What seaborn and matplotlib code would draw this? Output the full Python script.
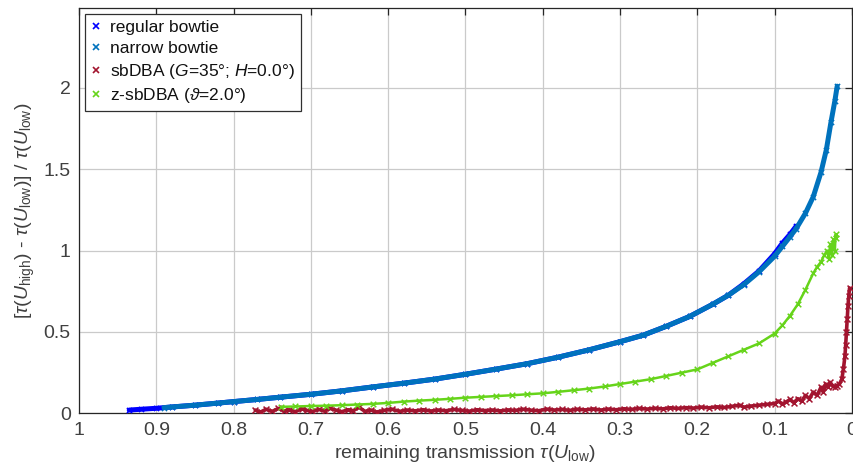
import numpy as np
import pandas as pd
import matplotlib
matplotlib.use("Agg")
import matplotlib.pyplot as plt
from matplotlib.lines import Line2D
from matplotlib.ticker import FuncFormatter
import seaborn as sns

# ---- measured data: remaining transmission vs. relative transmission change ----
regular_x = [0.935, 0.92, 0.90, 0.88, 0.85, 0.82, 0.80, 0.77, 0.74, 0.70, 0.66, 0.62,
             0.58, 0.54, 0.50, 0.46, 0.42, 0.38, 0.34, 0.30, 0.27, 0.24, 0.21, 0.18,
             0.16, 0.14, 0.12, 0.10, 0.09, 0.08, 0.072]
regular_y = [0.020, 0.025, 0.031, 0.039, 0.050, 0.063, 0.072, 0.085, 0.099, 0.117, 0.138, 0.162,
             0.185, 0.210, 0.240, 0.272, 0.305, 0.345, 0.390, 0.440, 0.480, 0.535, 0.595, 0.670,
             0.725, 0.795, 0.875, 0.980, 1.045, 1.100, 1.150]

narrow_x = [0.89, 0.88, 0.85, 0.82, 0.80, 0.77, 0.74, 0.70, 0.66, 0.62, 0.58, 0.54,
            0.50, 0.46, 0.42, 0.38, 0.34, 0.30, 0.27, 0.24, 0.21, 0.18, 0.16, 0.14,
            0.12, 0.10, 0.09, 0.08, 0.072, 0.06, 0.05, 0.04, 0.033, 0.027, 0.022, 0.019]
narrow_y = [0.035, 0.039, 0.050, 0.063, 0.072, 0.085, 0.099, 0.117, 0.138, 0.162, 0.185, 0.210,
            0.240, 0.272, 0.305, 0.345, 0.390, 0.440, 0.480, 0.535, 0.595, 0.670, 0.725, 0.790,
            0.870, 0.965, 1.025, 1.085, 1.135, 1.230, 1.330, 1.480, 1.620, 1.790, 1.920, 2.010]

sbdba_x = [0.772, 0.765, 0.758, 0.750, 0.742, 0.735, 0.728, 0.720, 0.712, 0.705, 0.698, 0.690,
           0.682, 0.675, 0.668, 0.660, 0.652, 0.645, 0.638, 0.630, 0.622, 0.615, 0.605, 0.595,
           0.585, 0.575, 0.565, 0.555, 0.545, 0.535, 0.525, 0.515, 0.505, 0.495, 0.485, 0.475,
           0.465, 0.455, 0.445, 0.435, 0.425, 0.415, 0.405, 0.395, 0.385, 0.375, 0.365, 0.355,
           0.345, 0.335, 0.325, 0.315, 0.305, 0.295, 0.285, 0.275, 0.265, 0.255, 0.245, 0.235,
           0.225, 0.215, 0.205, 0.195, 0.185, 0.175, 0.165, 0.155, 0.145, 0.140, 0.130, 0.120,
           0.110, 0.100, 0.095, 0.090, 0.085, 0.080, 0.075, 0.070, 0.065, 0.060, 0.055, 0.050,
           0.045, 0.040, 0.037, 0.034, 0.031, 0.028, 0.025, 0.022, 0.019, 0.016, 0.013, 0.011,
           0.009, 0.008, 0.007, 0.006, 0.005, 0.004, 0.003]
sbdba_y = [0.020, 0.008, 0.025, 0.012, 0.030, 0.015, 0.022, 0.010, 0.028, 0.018, 0.012, 0.024,
           0.015, 0.030, 0.020, 0.010, 0.022, 0.016, 0.038, 0.012, 0.020, 0.008, 0.018, 0.025,
           0.012, 0.020, 0.015, 0.022, 0.014, 0.020, 0.016, 0.024, 0.018, 0.013, 0.022, 0.017,
           0.020, 0.015, 0.021, 0.018, 0.025, 0.019, 0.016, 0.026, 0.020, 0.024, 0.018, 0.025,
           0.021, 0.027, 0.020, 0.026, 0.022, 0.028, 0.024, 0.030, 0.026, 0.031, 0.027, 0.034,
           0.030, 0.035, 0.032, 0.038, 0.034, 0.040, 0.036, 0.043, 0.050, 0.038, 0.045, 0.050,
           0.055, 0.060, 0.075, 0.058, 0.070, 0.085, 0.065, 0.090, 0.075, 0.110, 0.090, 0.130,
           0.110, 0.160, 0.130, 0.180, 0.160, 0.190, 0.170, 0.160, 0.170, 0.180, 0.210, 0.270,
           0.350, 0.420, 0.500, 0.580, 0.660, 0.720, 0.770]

zsbdba_x = [0.738, 0.72, 0.70, 0.68, 0.66, 0.64, 0.62, 0.60, 0.58, 0.56, 0.54, 0.52,
            0.50, 0.48, 0.46, 0.44, 0.42, 0.40, 0.38, 0.36, 0.34, 0.32, 0.30, 0.28,
            0.26, 0.24, 0.22, 0.20, 0.18, 0.16, 0.14, 0.12, 0.10, 0.09, 0.08, 0.07,
            0.06, 0.05, 0.045, 0.040, 0.036, 0.032, 0.030, 0.028, 0.026, 0.024, 0.022,
            0.021, 0.020]
zsbdba_y = [0.040, 0.042, 0.045, 0.047, 0.050, 0.054, 0.058, 0.064, 0.072, 0.078, 0.083, 0.089,
            0.096, 0.101, 0.106, 0.111, 0.117, 0.123, 0.132, 0.142, 0.152, 0.165, 0.180, 0.195,
            0.210, 0.230, 0.250, 0.270, 0.310, 0.350, 0.390, 0.430, 0.490, 0.540, 0.600, 0.670,
            0.760, 0.860, 0.900, 0.930, 0.970, 1.000, 0.950, 1.040, 0.970, 1.070, 1.000,
            1.100, 1.080]

series_labels = ["regular bowtie", "narrow bowtie",
                 r"sbDBA ($G$=35°; $H$=0.0°)", r"z-sbDBA ($\vartheta$=2.0°)"]
series_colors = ["#0000FF", "#0072BD", "#A2142F", "#66D41A"]

x_ticks = [1.0, 0.9, 0.8, 0.7, 0.6, 0.5, 0.4, 0.3, 0.2, 0.1, 0.0]
y_ticks = [0.0, 0.5, 1.0, 1.5, 2.0]

# ---- styling ----
sns.set_theme(style="whitegrid")
plt.rcParams["font.family"] = ["Liberation Sans", "DejaVu Sans"]
plt.rcParams["mathtext.fontset"] = "custom"
plt.rcParams["mathtext.rm"] = "Liberation Sans"
plt.rcParams["mathtext.it"] = "Liberation Sans:italic"
plt.rcParams["mathtext.cal"] = "Liberation Serif:italic"

text_col = "#404040"
fig = plt.figure(figsize=(8.54, 4.74), dpi=100)
ax = fig.add_axes([0.0925, 0.128, 0.905, 0.855])

frames = [
    pd.DataFrame({"tau": regular_x, "rel": regular_y}),
    pd.DataFrame({"tau": narrow_x, "rel": narrow_y}),
    pd.DataFrame({"tau": sbdba_x, "rel": sbdba_y}),
    pd.DataFrame({"tau": zsbdba_x, "rel": zsbdba_y}),
]
line_widths = [3.6, 3.6, 2.6, 1.8]
marker_sizes = [14, 14, 18, 16]
draw_order = [2, 3, 0, 1]
for i in draw_order:
    df = frames[i]
    sns.lineplot(data=df, x="tau", y="rel", sort=False, estimator=None,
                 color=series_colors[i], linewidth=line_widths[i], ax=ax, zorder=3 + i)
    sns.scatterplot(data=df, x="tau", y="rel", marker="x", s=marker_sizes[i], linewidth=1.1,
                    color=series_colors[i], ax=ax, zorder=3 + i)

ax.set_xlim(1.0, 0.0)
ax.set_ylim(0.0, 2.49)
ax.set_xticks(x_ticks)
ax.set_yticks(y_ticks)
fmt = FuncFormatter(lambda v, p: "%g" % round(v, 2))
ax.xaxis.set_major_formatter(fmt)
ax.yaxis.set_major_formatter(fmt)

ax.grid(True, color="#cacaca", linewidth=0.9)
ax.set_axisbelow(True)
for s in ax.spines.values():
    s.set_color("#262626")
    s.set_linewidth(0.9)
    s.set_visible(True)
ax.tick_params(axis="both", which="major", direction="in", length=5, width=0.9,
               color="#262626", top=True, right=True, labelsize=14,
               labelcolor=text_col, pad=6)

ax.set_xlabel(r"remaining transmission $\tau$($U_{\rm low}$)", fontsize=14,
              color=text_col, labelpad=3)
ax.set_ylabel(r"[$\tau$($U_{\rm high}$) - $\tau$($U_{\rm low}$)] / $\tau$($U_{\rm low}$)",
              fontsize=14, color=text_col, labelpad=5)

handles = [Line2D([], [], linestyle="none", marker="x", markersize=4.5,
                  markeredgewidth=1.2, color=c) for c in series_colors]
leg = ax.legend(handles, series_labels, loc="upper left", fontsize=12.5,
                frameon=True, fancybox=False, framealpha=1, edgecolor="#303030",
                handlelength=0.6, handletextpad=0.5, borderaxespad=0.35,
                labelspacing=0.32, borderpad=0.35)
leg.get_frame().set_linewidth(0.9)
for t in leg.get_texts():
    t.set_color("#111111")

fig.savefig("out.png", dpi=100)
